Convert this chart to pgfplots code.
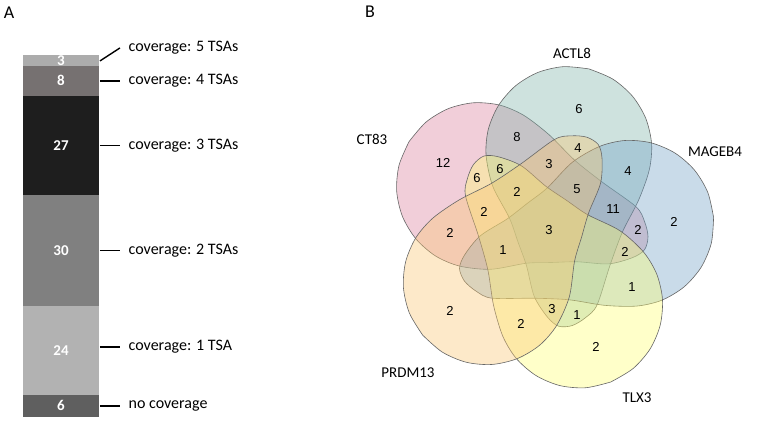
\documentclass[border=0pt]{standalone}
\usepackage{pgfplots}
\pgfplotsset{compat=1.18}
\usepackage{pgfplotstable}
\usepackage{fontspec}
\setmainfont{Carlito}
\newfontfamily\arialf{Liberation Sans}

\definecolor{cpink}{RGB}{218,126,155}
\definecolor{cteal}{RGB}{126,178,169}
\definecolor{cblue}{RGB}{112,161,198}
\definecolor{cyel}{RGB}{255,255,112}
\definecolor{corange}{RGB}{249,198,112}

\definecolor{bsix}{RGB}{95,95,95}
\definecolor{btwentyfour}{RGB}{178,178,178}
\definecolor{bthirty}{RGB}{128,128,128}
\definecolor{btwentyseven}{RGB}{30,30,30}
\definecolor{beight}{RGB}{118,113,113}
\definecolor{bthree}{RGB}{172,172,172}

\tikzset{
  barnum/.style={font=\bfseries\fontsize{15}{15}\selectfont, text=white},
  covlab/.style={font=\fontsize{16}{16}\selectfont, anchor=west, inner sep=0pt, xshift=8pt},
  vnum/.style={font=\arialf\fontsize{13}{13}\selectfont},
  vlab/.style={font=\fontsize{15}{15}\selectfont},
}

% one Venn set outline (local frame: lobe centre on the +x axis)
\pgfplotstableread{
x y
165 0
160.9 25.6
149.1 48.8
130.8 67.1
107.6 78.9
82 83
56.4 78.9
28 65
1 41
-20 27
-41 13
-69 -2
-86 -20
-92 -33
-88 -46
-77 -57
-62 -65
-20 -68
15 -72
50 -80
82 -83
107.6 -78.9
130.8 -67.1
149.1 -48.8
160.9 -25.6
165 0
}\venshape

\begin{document}
\begin{tikzpicture}
\path[use as bounding box] (0pt,0pt) rectangle (780pt,421pt);
\node[font=\fontsize{18}{18}\selectfont] at (9pt,408pt) {A};
\node[font=\fontsize{18}{18}\selectfont] at (370pt,409pt) {B};

% ---------------- Panel A ----------------
\begin{axis}[
  scale only axis, width=76pt, height=362pt,
  at={(23pt,4pt)}, anchor=south west,
  xmin=-0.5, xmax=0.5, ymin=0, ymax=98,
  hide axis, clip=false,
  ybar stacked, bar width=76pt,
  extra description/.code={
    \node[barnum] at (axis cs:0,3) {6};
    \node[barnum] at (axis cs:0,18) {24};
    \node[barnum] at (axis cs:0,45) {30};
    \node[barnum] at (axis cs:0,73.5) {27};
    \node[barnum] at (axis cs:0,91) {8};
    \node[barnum] at (axis cs:0,96.5) {3};
  },
]
\addplot[fill=bsix, draw=none] coordinates {(0,6)};
\addplot[fill=btwentyfour, draw=none] coordinates {(0,24)};
\addplot[fill=bthirty, draw=none] coordinates {(0,30)};
\addplot[fill=btwentyseven, draw=none] coordinates {(0,27)};
\addplot[fill=beight, draw=none] coordinates {(0,8)};
\addplot[fill=bthree, draw=none] coordinates {(0,3)};
\draw[line width=1.4pt] (axis cs:0.5,96.4) ++(1pt,0pt) -- ++(20pt,13pt) node[covlab] {coverage: 5 TSAs};
\draw[line width=1.4pt] (axis cs:0.5,91) ++(1pt,0pt) -- ++(20pt,0pt) node[covlab] {coverage: 4 TSAs};
\draw[line width=1.4pt] (axis cs:0.5,73.5) ++(1pt,0pt) -- ++(20pt,0pt) node[covlab] {coverage: 3 TSAs};
\draw[line width=1.4pt] (axis cs:0.5,45) ++(1pt,0pt) -- ++(20pt,0pt) node[covlab] {coverage: 2 TSAs};
\draw[line width=1.4pt] (axis cs:0.5,19) ++(1pt,0pt) -- ++(20pt,0pt) node[covlab] {coverage: 1 TSA};
\draw[line width=1.4pt] (axis cs:0.5,3) ++(1pt,0pt) -- ++(20pt,0pt) node[covlab] {no coverage};
\end{axis}

% ---------------- Panel B ----------------
\begin{axis}[
  x=1pt, y=1pt,
  xmin=-200, xmax=200, ymin=-190, ymax=200,
  at={(549pt,192pt)}, anchor=origin,
  hide axis, clip=false,
]
\addplot[smooth, no markers, fill opacity=0.38, draw=black!60, line width=0.6pt, fill=cpink] table[x expr={\thisrow{x}*cos(148)-\thisrow{y}*sin(148)}, y expr={\thisrow{x}*sin(148)+\thisrow{y}*cos(148)}] {\venshape};
\addplot[smooth, no markers, fill opacity=0.38, draw=black!60, line width=0.6pt, fill=cteal] table[x expr={\thisrow{x}*cos(76)-\thisrow{y}*sin(76)}, y expr={\thisrow{x}*sin(76)+\thisrow{y}*cos(76)}] {\venshape};
\addplot[smooth, no markers, fill opacity=0.38, draw=black!60, line width=0.6pt, fill=cblue] table[x expr={\thisrow{x}*cos(4)-\thisrow{y}*sin(4)}, y expr={\thisrow{x}*sin(4)+\thisrow{y}*cos(4)}] {\venshape};
\addplot[smooth, no markers, fill opacity=0.38, draw=black!60, line width=0.6pt, fill=cyel] table[x expr={\thisrow{x}*cos(-68)-\thisrow{y}*sin(-68)}, y expr={\thisrow{x}*sin(-68)+\thisrow{y}*cos(-68)}] {\venshape};
\addplot[smooth, no markers, fill opacity=0.38, draw=black!60, line width=0.6pt, fill=corange] table[x expr={\thisrow{x}*cos(-140)-\thisrow{y}*sin(-140)}, y expr={\thisrow{x}*sin(-140)+\thisrow{y}*cos(-140)}] {\venshape};

\node[vnum] at (axis cs:30,120) {6};
\node[vnum] at (axis cs:-32,92) {8};
\node[vnum] at (axis cs:-106,66) {12};
\node[vnum] at (axis cs:29,81) {4};
\node[vnum] at (axis cs:0,65) {3};
\node[vnum] at (axis cs:-49,60) {6};
\node[vnum] at (axis cs:-72,51) {6};
\node[vnum] at (axis cs:79,58) {4};
\node[vnum] at (axis cs:-32,37) {2};
\node[vnum] at (axis cs:28,40) {5};
\node[vnum] at (axis cs:-65,17) {2};
\node[vnum] at (axis cs:64,20) {11};
\node[vnum] at (axis cs:125,7) {2};
\node[vnum] at (axis cs:-99,-4) {2};
\node[vnum] at (axis cs:0,-1) {3};
\node[vnum] at (axis cs:89,-1) {2};
\node[vnum] at (axis cs:-46,-21) {1};
\node[vnum] at (axis cs:76,-23) {2};
\node[vnum] at (axis cs:83,-58) {1};
\node[vnum] at (axis cs:-99,-82) {2};
\node[vnum] at (axis cs:3,-80) {3};
\node[vnum] at (axis cs:28,-86) {1};
\node[vnum] at (axis cs:-28,-95) {2};
\node[vnum] at (axis cs:47,-118) {2};
\node[vlab] at (axis cs:23,176) {ACTL8};
\node[vlab] at (axis cs:-177,90) {CT83};
\node[vlab] at (axis cs:166,77) {MAGEB4};
\node[vlab] at (axis cs:-141,-144) {PRDM13};
\node[vlab] at (axis cs:88,-169) {TLX3};
\end{axis}
\end{tikzpicture}
\end{document}
